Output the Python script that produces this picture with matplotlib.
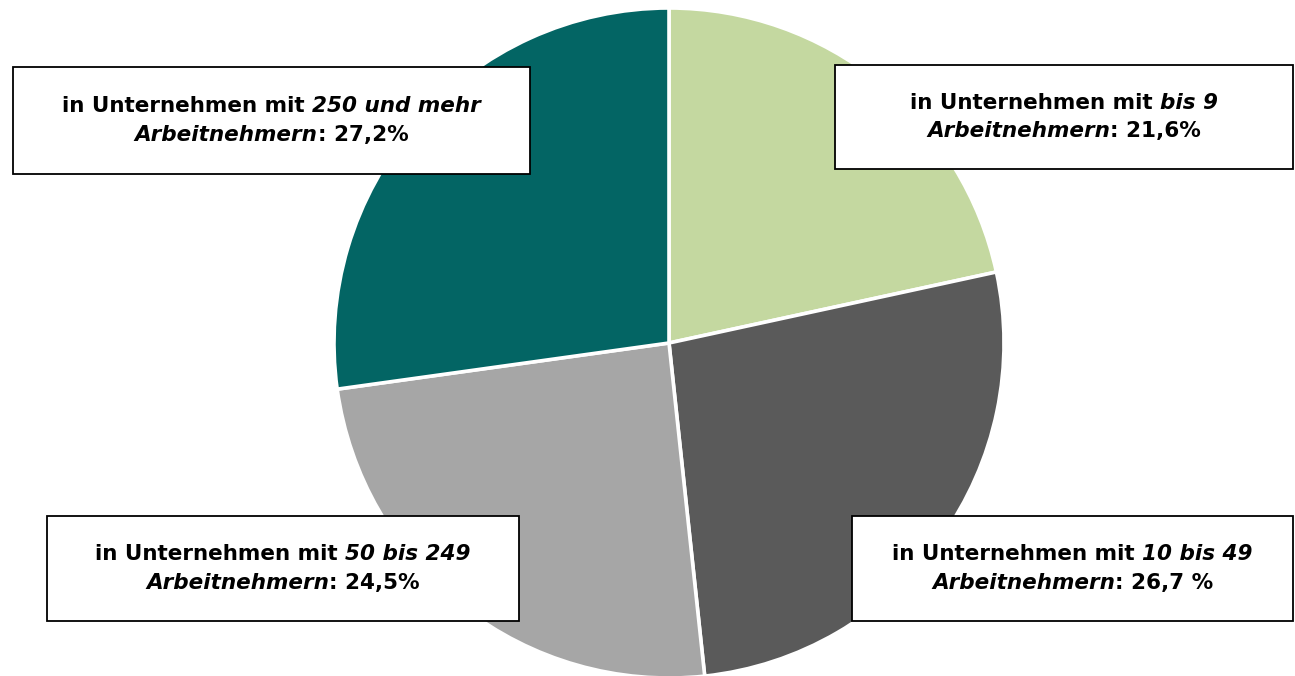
import matplotlib
matplotlib.use("Agg")
import matplotlib.pyplot as plt
from matplotlib.patches import Rectangle
from matplotlib.offsetbox import TextArea, HPacker, VPacker, AnnotationBbox

# shares in percent, clockwise from the top
sizes = [21.6, 26.7, 24.5, 27.2]
colors = ["#C4D8A0", "#5A5A5A", "#A6A6A6", "#036564"]
ranges = ["bis 9", "10 bis 49", "50 bis 249", "250 und mehr"]
pct_text = ["21,6%", "26,7 %", "24,5%", "27,2%"]

W, H = 1295, 676
fig = plt.figure(figsize=(W / 100, H / 100), dpi=100)

# pie centre (669, 343) px, radius 335 px
cx, cy, r = 669, 343, 335
ax = fig.add_axes([(cx - r) / W, (H - cy - r) / H, 2 * r / W, 2 * r / H])
ax.pie(sizes, colors=colors, startangle=90, counterclock=False, radius=1,
       wedgeprops=dict(edgecolor="white", linewidth=2.6))
ax.set_xlim(-1, 1)
ax.set_ylim(-1, 1)
ax.set_aspect("equal")
ax.axis("off")

# label boxes: (left, top, right, bottom) in px
boxes = [(835, 65, 1293, 169), (852, 516, 1293, 621),
         (47, 516, 519, 621), (13, 67, 530, 174)]

fs = 15.5
for rng, pct, (x0, y0, x1, y1) in zip(ranges, pct_text, boxes):
    fig.patches.append(Rectangle((x0 / W, 1 - y1 / H), (x1 - x0) / W, (y1 - y0) / H,
                                 transform=fig.transFigure, facecolor="white",
                                 edgecolor="black", linewidth=1.3, zorder=5))
    norm = dict(fontsize=fs, color="black", family="DejaVu Sans", weight="bold")
    ital = dict(norm, style="italic")
    line1 = HPacker(children=[TextArea("in Unternehmen mit ", textprops=norm),
                              TextArea(rng, textprops=ital)], pad=0, sep=0)
    line2 = HPacker(children=[TextArea("Arbeitnehmern", textprops=ital),
                              TextArea(": " + pct, textprops=norm)], pad=0, sep=0)
    pack = VPacker(children=[line1, line2], align="center", pad=0, sep=6)
    ab = AnnotationBbox(pack, ((x0 + x1) / 2 / W, 1 - (y0 + y1) / 2 / H),
                        xycoords="figure fraction", frameon=False, zorder=6)
    fig.artists.append(ab)
    ab.set_figure(fig)

fig.savefig("out.png", dpi=100)
